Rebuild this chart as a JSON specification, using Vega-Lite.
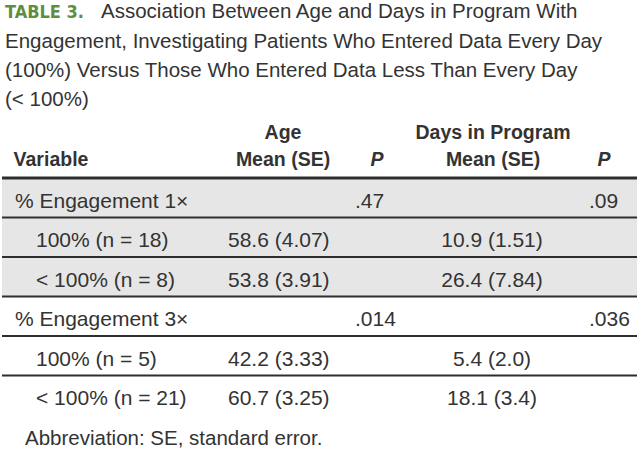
{
  "$schema": "https://vega.github.io/schema/vega-lite/v6.json",
  "width": 639,
  "height": 461,
  "padding": 0,
  "autosize": {"type": "fit", "contains": "padding"},
  "background": "#ffffff",
  "config": {"view": {"stroke": null}, "text": {"font": "Liberation Sans", "color": "#333333"}},
  "datasets": {
    "lines": [
      {"line": 1, "col": 0, "block": "label", "text": "TABLE 3."},
      {"line": 1, "col": 2, "block": "caption", "text": "Association Between Age and Days in Program With"},
      {"line": 2, "col": 0, "block": "caption", "text": "Engagement, Investigating Patients Who Entered Data Every Day"},
      {"line": 3, "col": 0, "block": "caption", "text": "(100%) Versus Those Who Entered Data Less Than Every Day"},
      {"line": 4, "col": 0, "block": "caption", "text": "(< 100%)"},
      {"line": 7, "col": 1, "block": "note", "text": "Abbreviation: SE, standard error."}
    ],
    "header": [
      {"line": 5, "col": 1, "text": "Age"},
      {"line": 6, "col": 0, "text": "Variable"},
      {"line": 6, "col": 1, "text": "Mean (SE)"},
      {"line": 6, "col": 2, "text": "P"},
      {"line": 5, "col": 3, "text": "Days in Program"},
      {"line": 6, "col": 3, "text": "Mean (SE)"},
      {"line": 6, "col": 4, "text": "P"}
    ],
    "rows": [
      {"row": 1, "group": "Engagement 1×", "level": "group", "variable": "% Engagement 1×"},
      {"row": 2, "group": "Engagement 1×", "level": "sub", "variable": "100% (n = 18)"},
      {"row": 3, "group": "Engagement 1×", "level": "sub", "variable": "< 100% (n = 8)"},
      {"row": 4, "group": "Engagement 3×", "level": "group", "variable": "% Engagement 3×"},
      {"row": 5, "group": "Engagement 3×", "level": "sub", "variable": "100% (n = 5)"},
      {"row": 6, "group": "Engagement 3×", "level": "sub", "variable": "< 100% (n = 21)"}
    ],
    "cells": [
      {"row": 1, "col": 3, "text": ".47"},
      {"row": 1, "col": 5, "text": ".09"},
      {"row": 2, "col": 2, "text": "58.6 (4.07)"},
      {"row": 2, "col": 4, "text": "10.9 (1.51)"},
      {"row": 3, "col": 2, "text": "53.8 (3.91)"},
      {"row": 3, "col": 4, "text": "26.4 (7.84)"},
      {"row": 4, "col": 3, "text": ".014"},
      {"row": 4, "col": 5, "text": ".036"},
      {"row": 5, "col": 2, "text": "42.2 (3.33)"},
      {"row": 5, "col": 4, "text": "5.4 (2.0)"},
      {"row": 6, "col": 2, "text": "60.7 (3.25)"},
      {"row": 6, "col": 4, "text": "18.1 (3.4)"}
    ]
  },
  "resolve": {"scale": {"x": "independent", "y": "independent", "fill": "independent"}},
  "layer": [
    {
      "data": {"name": "rows"},
      "mark": {"type": "rect"},
      "encoding": {
        "y": {"field": "row", "type": "ordinal", "axis": null, "scale": {"type": "band", "domain": [1, 2, 3, 4, 5, 6], "range": [178, 415], "paddingInner": 0, "paddingOuter": 0}},
        "fill": {"field": "group", "type": "nominal", "legend": null, "scale": {"domain": ["Engagement 1×", "Engagement 3×"], "range": ["#e6e6e6", "#ffffff"]}}
      }
    },
    {
      "data": {"name": "rows"},
      "transform": [{"filter": "datum.row == 1"}],
      "mark": {"type": "rule", "color": "#2e2e2e", "strokeWidth": 3},
      "encoding": {
        "y": {"field": "row", "type": "ordinal", "bandPosition": 0, "axis": null, "scale": {"type": "band", "domain": [1, 2, 3, 4, 5, 6], "range": [178, 415], "paddingInner": 0, "paddingOuter": 0}}
      }
    },
    {
      "data": {"name": "rows"},
      "transform": [{"filter": "datum.row > 1"}],
      "mark": {"type": "rule", "color": "#2e2e2e", "strokeWidth": 2},
      "encoding": {
        "y": {"field": "row", "type": "ordinal", "bandPosition": 0, "axis": null, "scale": {"type": "band", "domain": [1, 2, 3, 4, 5, 6], "range": [178, 415], "paddingInner": 0, "paddingOuter": 0}}
      }
    },
    {
      "data": {"name": "rows"},
      "mark": {"type": "text", "align": "left", "baseline": "alphabetic", "dy": 10, "fontSize": 21},
      "encoding": {
        "x": {"field": "level", "type": "nominal", "axis": null, "scale": {"type": "point", "domain": ["group", "sub"], "range": [13, 34], "padding": 0}},
        "y": {"field": "row", "type": "ordinal", "axis": null, "scale": {"type": "band", "domain": [1, 2, 3, 4, 5, 6], "range": [178, 415], "paddingInner": 0, "paddingOuter": 0}},
        "text": {"field": "variable"}
      }
    },
    {
      "data": {"name": "cells"},
      "transform": [{"filter": "datum.col != 4"}],
      "mark": {"type": "text", "align": "left", "baseline": "alphabetic", "dy": 10, "fontSize": 21},
      "encoding": {
        "x": {"field": "col", "type": "quantitative", "axis": null, "scale": {"domain": [2, 3, 4, 5], "range": [226, 353, 490, 587], "zero": false, "nice": false}},
        "y": {"field": "row", "type": "ordinal", "axis": null, "scale": {"type": "band", "domain": [1, 2, 3, 4, 5, 6], "range": [178, 415], "paddingInner": 0, "paddingOuter": 0}},
        "text": {"field": "text"}
      }
    },
    {
      "data": {"name": "cells"},
      "transform": [{"filter": "datum.col == 4"}],
      "mark": {"type": "text", "align": "center", "baseline": "alphabetic", "dy": 10, "fontSize": 21},
      "encoding": {
        "x": {"field": "col", "type": "quantitative", "axis": null, "scale": {"domain": [2, 3, 4, 5], "range": [226, 353, 490, 587], "zero": false, "nice": false}},
        "y": {"field": "row", "type": "ordinal", "axis": null, "scale": {"type": "band", "domain": [1, 2, 3, 4, 5, 6], "range": [178, 415], "paddingInner": 0, "paddingOuter": 0}},
        "text": {"field": "text"}
      }
    },
    {
      "data": {"name": "header"},
      "transform": [{"filter": "datum.text != 'P'"}],
      "mark": {"type": "text", "align": "center", "baseline": "alphabetic", "fontSize": 19.5, "fontWeight": "bold"},
      "encoding": {
        "x": {"field": "col", "type": "quantitative", "axis": null, "scale": {"domain": [0, 1, 2, 3, 4], "range": [49, 281, 375, 491, 602], "zero": false, "nice": false}},
        "y": {"field": "line", "type": "quantitative", "axis": null, "scale": {"domain": [1, 2, 3, 4, 5, 6, 7], "range": [18, 48, 77, 106, 139, 166, 445], "zero": false, "nice": false}},
        "text": {"field": "text"}
      }
    },
    {
      "data": {"name": "header"},
      "transform": [{"filter": "datum.text == 'P'"}],
      "mark": {"type": "text", "align": "center", "baseline": "alphabetic", "fontSize": 19.5, "fontWeight": "bold", "fontStyle": "italic"},
      "encoding": {
        "x": {"field": "col", "type": "quantitative", "axis": null, "scale": {"domain": [0, 1, 2, 3, 4], "range": [49, 281, 375, 491, 602], "zero": false, "nice": false}},
        "y": {"field": "line", "type": "quantitative", "axis": null, "scale": {"domain": [1, 2, 3, 4, 5, 6, 7], "range": [18, 48, 77, 106, 139, 166, 445], "zero": false, "nice": false}},
        "text": {"field": "text"}
      }
    },
    {
      "data": {"name": "lines"},
      "transform": [{"filter": "datum.block == 'label'"}],
      "mark": {"type": "text", "align": "left", "baseline": "alphabetic", "fontSize": 18, "fontWeight": "bold", "font": "'DejaVu Sans Condensed', 'Liberation Sans', sans-serif", "color": "#5e8f3e"},
      "encoding": {
        "x": {"field": "col", "type": "quantitative", "axis": null, "scale": {"domain": [0, 1, 2], "range": [3, 23, 99], "zero": false, "nice": false}},
        "y": {"field": "line", "type": "quantitative", "axis": null, "scale": {"domain": [1, 2, 3, 4, 5, 6, 7], "range": [18, 48, 77, 106, 139, 166, 445], "zero": false, "nice": false}},
        "text": {"field": "text"}
      }
    },
    {
      "data": {"name": "lines"},
      "transform": [{"filter": "datum.block != 'label'"}],
      "mark": {"type": "text", "align": "left", "baseline": "alphabetic", "fontSize": 20.5},
      "encoding": {
        "x": {"field": "col", "type": "quantitative", "axis": null, "scale": {"domain": [0, 1, 2], "range": [3, 23, 99], "zero": false, "nice": false}},
        "y": {"field": "line", "type": "quantitative", "axis": null, "scale": {"domain": [1, 2, 3, 4, 5, 6, 7], "range": [18, 48, 77, 106, 139, 166, 445], "zero": false, "nice": false}},
        "text": {"field": "text"}
      }
    }
  ]
}
